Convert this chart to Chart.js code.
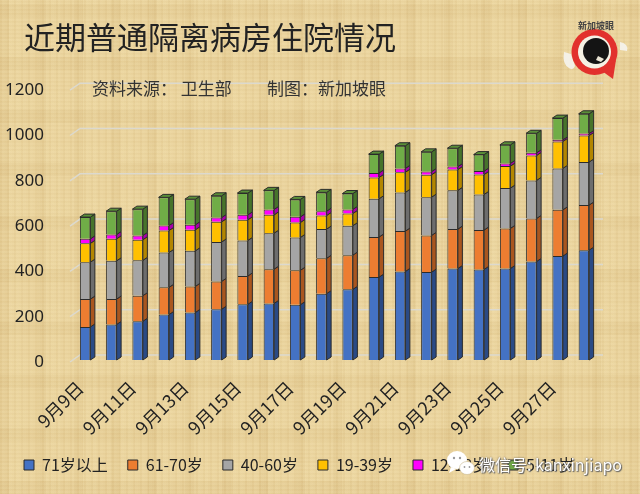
<!DOCTYPE html>
<html>
<head>
<meta charset="utf-8">
<script src="https://cdn.jsdelivr.net/npm/chart.js@4"></script>
<style>
  html, body { margin: 0; padding: 0; }
  body {
    width: 640px; height: 494px; overflow: hidden; position: relative;
    background-color: #ead39d;
    background-image:
      repeating-linear-gradient(90deg, rgba(170,125,50,.05) 0 2px, rgba(255,245,205,.04) 2px 5px, rgba(170,125,50,0) 5px 7px),
      repeating-linear-gradient(0deg, rgba(170,125,50,.04) 0 1px, rgba(255,245,205,.05) 1px 3px, rgba(170,125,50,.02) 3px 4px),
      repeating-linear-gradient(90deg, rgba(165,120,45,.06) 0 9px, rgba(255,240,190,.06) 9px 23px, rgba(165,120,45,0) 23px 37px),
      repeating-linear-gradient(0deg, rgba(165,120,45,.05) 0 13px, rgba(255,240,190,.06) 13px 31px, rgba(165,120,45,0) 31px 53px);
    font-family: "Noto Sans CJK SC", sans-serif;
  }
  #chart { position: absolute; left: 0; top: 0; }
  .source { position: absolute; top: 77px; font-size: 17px; line-height: 22px; color: #333; white-space: nowrap; }
  #logo { position: absolute; left: 560px; top: 14px; }
  #mark { position: absolute; left: 446px; top: 447px; }
  #wechat { position: absolute; left: 479px; top: 452px; font-size: 16px; line-height: 24px; color: #fff; white-space: nowrap; text-shadow: 0 0 2px #555, 1px 1px 1px #666; }
</style>
</head>
<body>
<canvas id="chart" width="640" height="494"></canvas>
<div class="source" style="left:92px">资料来源： 卫生部</div>
<div class="source" style="left:267px">制图：新加坡眼</div>
<svg id="logo" width="72" height="72" viewBox="0 0 72 72">
  <path d="M4 38 Q2 50 9 54 Q13 57 15 52 L11 40 Z M60 28 Q69 30 67 37 L60 36 Z" fill="#f4f0e6"/>
  <circle cx="34.5" cy="38" r="23" fill="#e2312d"/>
  <path d="M42 57 L53 65 L56 46 Z" fill="#e2312d"/>
  <circle cx="34.5" cy="38" r="16.5" fill="#f5f1e4"/>
  <circle cx="36" cy="37" r="13" fill="#141414"/>
  <path d="M38 42 L44 45 L41 48 L36 46 Z" fill="#e9e4d4"/>
  <text x="36" y="15" text-anchor="middle" font-size="9" font-weight="bold" fill="#444">新加坡眼</text>
</svg>
<svg id="mark" width="34" height="34" viewBox="0 0 34 34">
  <ellipse cx="11" cy="13" rx="10" ry="9" fill="#fff"/>
  <path d="M5 20 L3 26 L10 22 Z" fill="#fff"/>
  <ellipse cx="21" cy="21" rx="7.5" ry="6.5" fill="#fff" stroke="#c9b98f" stroke-width=".6"/>
  <circle cx="8" cy="11" r="1.2" fill="#9a9a9a"/><circle cx="14" cy="11" r="1.2" fill="#9a9a9a"/>
  <circle cx="18.5" cy="20" r=".9" fill="#9a9a9a"/><circle cx="23.5" cy="20" r=".9" fill="#9a9a9a"/>
</svg>
<div id="wechat">微信号: kanxinjiapo</div>
<script>
const dates = ["9月9日","9月10日","9月11日","9月12日","9月13日","9月14日","9月15日","9月16日","9月17日","9月18日","9月19日","9月20日","9月21日","9月22日","9月23日","9月24日","9月25日","9月26日","9月27日","9月28日"];
const age71up = [146,157,171,201,210,224,246,250,244,293,312,366,391,388,404,400,404,435,459,485];
const age61to70 = [123,112,113,120,115,123,125,151,152,156,151,177,178,162,174,174,177,190,204,199];
const age40to60 = [163,169,156,154,157,174,157,159,145,129,130,169,171,169,171,157,178,168,183,190];
const age19to39 = [83,97,91,97,93,89,91,81,66,60,54,94,89,99,92,88,97,110,119,117];
const age12to18 = [20,19,19,22,22,19,22,24,25,19,18,20,17,14,13,15,12,12,7,9];
const age5to11 = [96,103,116,124,113,96,96,84,77,83,70,83,100,87,81,73,82,86,96,87];

const seriesNames = ["71岁以上","61-70岁","40-60岁","19-39岁","12-18岁","5-11岁"];
const seriesValues = [age71up, age61to70, age40to60, age19to39, age12to18, age5to11];
const seriesColors = ["#4472c4","#ed7d31","#a5a5a5","#ffc000","#ff00ff","#70ad47"];
const sideColors = ["#2a4a85","#a9561f","#6d6d6d","#b38600","#a800a8","#47742b"];
const topColors = ["#3a62aa","#c96a28","#8c8c8c","#d9a300","#d000d0","#5a8f38"];

const DEPTH_X = 4.5, DEPTH_Y = 3;
const EDGE = "#2b2b2b";

// Excel style 3D: the gridlines sit on the back wall, behind the bars
const backWall = {
  id: "backWall",
  afterLayout(chart) {
    chart.titleBlock.left = 24;
  },
  beforeDatasetsDraw(chart) {
    const ctx = chart.ctx, y = chart.scales.y, area = chart.chartArea;
    ctx.save();
    ctx.strokeStyle = "#dcd9ce";
    ctx.lineWidth = 1.5;
    y.ticks.forEach(t => {
      const py = y.getPixelForValue(t.value);
      ctx.beginPath();
      ctx.moveTo(area.left - 2, py + 2);
      ctx.lineTo(area.left + 8, py - 5);
      ctx.lineTo(area.right + 6, py - 5);
      ctx.stroke();
    });
    ctx.restore();
  },
  afterDatasetsDraw(chart) {
    const ctx = chart.ctx;
    ctx.save();
    ctx.strokeStyle = EDGE;
    ctx.lineWidth = 1;
    chart.data.datasets.forEach((ds, i) => {
      chart.getDatasetMeta(i).data.forEach(bar => {
        const r = bar.x + bar.width / 2;
        const l = bar.x - bar.width / 2;
        ctx.fillStyle = sideColors[i];
        ctx.beginPath();
        ctx.moveTo(r, bar.base);
        ctx.lineTo(r + DEPTH_X, bar.base - DEPTH_Y);
        ctx.lineTo(r + DEPTH_X, bar.y - DEPTH_Y);
        ctx.lineTo(r, bar.y);
        ctx.closePath();
        ctx.fill();
        ctx.stroke();
        if (i === chart.data.datasets.length - 1) {
          ctx.fillStyle = topColors[i];
          ctx.beginPath();
          ctx.moveTo(l, bar.y);
          ctx.lineTo(l + DEPTH_X, bar.y - DEPTH_Y);
          ctx.lineTo(r + DEPTH_X, bar.y - DEPTH_Y);
          ctx.lineTo(r, bar.y);
          ctx.closePath();
          ctx.fill();
          ctx.stroke();
        }
      });
    });
    ctx.restore();
  }
};

new Chart(document.getElementById("chart"), {
  type: "bar",
  data: {
    labels: dates,
    datasets: seriesNames.map((name, i) => ({
      label: name,
      data: seriesValues[i],
      backgroundColor: seriesColors[i],
      borderColor: EDGE,
      borderWidth: 1,
      categoryPercentage: 0.4,
      barPercentage: 1
    }))
  },
  options: {
    responsive: false,
    animation: false,
    layout: { padding: { left: 4, right: 43, top: 0, bottom: 11 } },
    plugins: {
      tooltip: { enabled: false },
      title: {
        display: true,
        text: "近期普通隔离病房住院情况",
        align: "start",
        color: "#222",
        font: { family: '"Noto Sans CJK SC", sans-serif', size: 31, weight: "normal" },
        padding: { top: 19, bottom: 32 }
      },
      legend: {
        position: "bottom",
        align: "start",
        labels: { boxWidth: 10, boxHeight: 10, padding: 20, color: "#222", font: { family: '"Noto Sans CJK SC", sans-serif', size: 16 } }
      }
    },
    scales: {
      x: {
        stacked: true,
        grid: { display: false },
        border: { display: false },
        afterFit(scale) {
          scale.height = 77;
          scale.paddingLeft = 0;
          scale.paddingRight = 0;
        },
        ticks: {
          autoSkip: false,
          minRotation: 45,
          maxRotation: 45,
          padding: 9,
          labelOffset: -5,
          color: "#222",
          font: { family: '"Noto Sans CJK SC", sans-serif', size: 18 },
          callback(value, index) { return index % 2 === 0 ? this.getLabelForValue(value) : ""; }
        }
      },
      y: {
        stacked: true,
        min: 0,
        max: 1200,
        grid: { display: false },
        border: { display: false },
        afterFit(scale) {
          scale.width = 68;
          scale.paddingTop = 0;
          scale.paddingBottom = 0;
        },
        ticks: {
          stepSize: 200,
          padding: 20,
          labelOffset: 2,
          color: "#222",
          font: { family: '"Noto Sans", sans-serif', size: 17 },
          callback(value) { return String(value); }
        }
      }
    }
  },
  plugins: [backWall]
});
</script>
</body>
</html>
